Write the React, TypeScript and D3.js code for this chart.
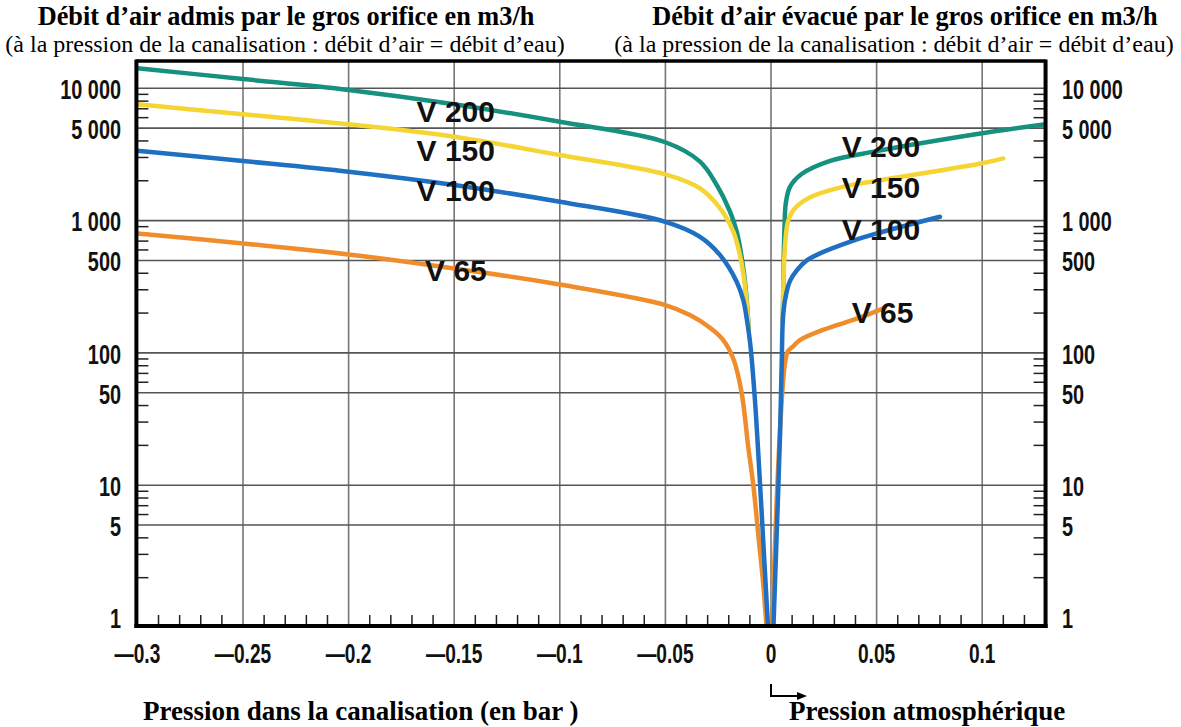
import React from "react";
import * as d3 from "d3";

const W = 1181;
const H = 727;

type P = [number, number];

// Pressure in bar (x) vs air flow m3/h (y)
const v200Left: P[] = [
  [-0.3, 14170], [-0.25, 11750], [-0.2, 9710], [-0.15, 7570], [-0.1, 5580], [-0.05, 3910],
  [-0.0336, 2790], [-0.0257, 1860], [-0.0194, 1167], [-0.0162, 823], [-0.0131, 435], [-0.0115, 250], [-0.0106, 150],
];
const v150Left: P[] = [
  [-0.3, 7570], [-0.25, 6360], [-0.2, 5340], [-0.15, 4310], [-0.1, 3130], [-0.05, 2235],
  [-0.0336, 1753], [-0.0241, 1237], [-0.0178, 823], [-0.0147, 548], [-0.0131, 400], [-0.0115, 240], [-0.0106, 150],
];
const v100Left: P[] = [
  [-0.3, 3375], [-0.25, 2820], [-0.2, 2340], [-0.15, 1857], [-0.1, 1388], [-0.05, 979],
  [-0.0336, 754], [-0.0241, 548], [-0.0162, 344], [-0.0131, 250], [-0.0115, 182], [-0.0099, 120],
  [-0.0076, 44], [-0.0052, 10.3], [-0.003, 2.4], [-0.0013, 0.8],
];
const v65Left: P[] = [
  [-0.3, 800], [-0.25, 672], [-0.2, 555], [-0.15, 435], [-0.1, 329], [-0.05, 230],
  [-0.0384, 193], [-0.0289, 155], [-0.0226, 125], [-0.0178, 90], [-0.0139, 50], [-0.0107, 19],
  [-0.0084, 10.1], [-0.006, 4.2], [-0.0037, 1.8], [-0.002, 0.8],
];

const v200Right: P[] = [
  [0.0056, 170], [0.006, 500], [0.0064, 900], [0.007, 1350], [0.009, 1800], [0.0145, 2250],
  [0.028, 2830], [0.05, 3350], [0.1, 4570], [0.13, 5350],
];
const v150Right: P[] = [
  [0.0056, 170], [0.006, 400], [0.0068, 700], [0.008, 980], [0.0106, 1200], [0.0185, 1500],
  [0.034, 1800], [0.05, 2000], [0.1, 2710], [0.11, 2950],
];
const v100Right: P[] = [
  [0.0011, 0.8], [0.0027, 4.3], [0.0043, 24.7], [0.0051, 88], [0.0058, 200], [0.0074, 290],
  [0.009, 350], [0.0122, 420], [0.0169, 500], [0.0232, 565], [0.039, 705], [0.05, 800], [0.08, 1070],
];
const v65Right: P[] = [
  [0.0005, 0.8], [0.0027, 7.7], [0.0051, 43.9], [0.0066, 83], [0.008, 103], [0.0105, 112],
  [0.0137, 125], [0.025, 150], [0.04, 180], [0.05, 207], [0.054, 220],
];

const seriesNames = ["V 65", "V 200", "V 150", "V 100"];
const seriesColors = ["#ef8d2c", "#17917f", "#f4d534", "#1f6fc2"];
const seriesData: P[][][] = [
  [v65Left, v65Right],
  [v200Left, v200Right],
  [v150Left, v150Right],
  [v100Left, v100Right],
];

// curve labels: [text, x (bar), y (m3/h) of baseline]
const curveLabels: [string, number, number][] = [
  ["V 200", -0.1678, 5600], ["V 150", -0.1678, 2800], ["V 100", -0.1678, 1400], ["V 65", -0.1638, 350],
  ["V 200", 0.0335, 3020], ["V 150", 0.0335, 1479], ["V 100", 0.0335, 713], ["V 65", 0.0382, 168],
];

const xTicks = [-0.3, -0.25, -0.2, -0.15, -0.1, -0.05, 0, 0.05, 0.1];
const xTickLabels = ["\u20140.3", "\u20140.25", "\u20140.2", "\u20140.15", "\u20140.1", "\u20140.05", "0", "0.05", "0.1"];
const xGrid = [-0.25, -0.2, -0.15, -0.1, -0.05, 0, 0.05, 0.1];
const yTicks = [10000, 5000, 1000, 500, 100, 50, 10, 5, 1];
const yTickLabels = ["10 000", "5 000", "1 000", "500", "100", "50", "10", "5", "1"];
const yGrid = [10000, 5000, 1000, 500, 100, 50, 10, 5];
const minorMult = [2, 3, 4, 6, 7, 8, 9];
const decades = [1, 10, 100, 1000];

const titleLeft = "Débit d\u2019air admis par le gros orifice en m3/h";
const titleRight = "Débit d\u2019air évacué par le gros orifice en m3/h";
const subtitle = "(à la pression de la canalisation : débit d\u2019air = débit d\u2019eau)";
const xTitleLeft = "Pression dans la canalisation (en bar )";
const xTitleRight = "Pression atmosphérique";

export default function App() {
  const x = d3.scaleLinear().domain([-0.3, 0.1]).range([137.4, 982.2]);
  const y = d3.scaleLog().domain([1, 10000]).range([617.5, 88.3]);
  const left = x(-0.3) - 1;
  const right = x(0.13);
  const top = 61;
  const bottom = 626;

  const line = d3
    .line<P>()
    .x((d) => x(d[0]))
    .y((d) => y(d[1]))
    .curve(d3.curveCatmullRom.alpha(0.5));

  const minorY: number[] = [];
  decades.forEach((d) => minorMult.forEach((m) => minorY.push(d * m)));
  const minorX: number[] = [];
  for (let i = -29; i <= 12; i++) if (i % 5 !== 0) minorX.push(i / 100);

  const tickFont = "'Liberation Sans', Arial, sans-serif";
  const serif = "'Liberation Serif', 'Times New Roman', serif";
  const sx = 0.71;

  return (
    <svg width={W} height={H} style={{ position: "absolute", left: 0, top: 0, background: "#fff" }}>
      <defs>
        <clipPath id="plot">
          <rect x={left} y={top} width={right - left} height={bottom - top} />
        </clipPath>
      </defs>
      <rect x={0} y={0} width={W} height={H} fill="#fff" />

      {/* titles */}
      <text x={286} y={25} textAnchor="middle" fontFamily={serif} fontWeight="bold" fontSize={26.3}>{titleLeft}</text>
      <text x={905} y={25} textAnchor="middle" fontFamily={serif} fontWeight="bold" fontSize={26.3}>{titleRight}</text>
      <text x={285} y={52} textAnchor="middle" fontFamily={serif} fontSize={24}>{subtitle}</text>
      <text x={894} y={52} textAnchor="middle" fontFamily={serif} fontSize={24}>{subtitle}</text>

      {/* grid */}
      {xGrid.map((v) => (
        <line key={"gx" + v} x1={x(v)} x2={x(v)} y1={top} y2={bottom} stroke="#777" strokeWidth={1.6} />
      ))}
      {yGrid.map((v) => (
        <line key={"gy" + v} x1={left} x2={right} y1={y(v)} y2={y(v)} stroke="#555" strokeWidth={1.6} />
      ))}

      {/* minor ticks */}
      {minorY.map((v) => (
        <g key={"my" + v}>
          <line x1={left} x2={left + 12} y1={y(v)} y2={y(v)} stroke="#222" strokeWidth={1.5} />
          <line x1={right - 12} x2={right} y1={y(v)} y2={y(v)} stroke="#222" strokeWidth={1.5} />
        </g>
      ))}
      {minorX.map((v) => (
        <line key={"mx" + v} x1={x(v)} x2={x(v)} y1={bottom} y2={bottom - 11} stroke="#222" strokeWidth={1.5} />
      ))}

      {/* curves */}
      <g clipPath="url(#plot)">
        {seriesData.map((branches, i) =>
          branches.map((b, j) => (
            <path
              key={seriesNames[i] + j}
              d={line(b) || ""}
              fill="none"
              stroke={seriesColors[i]}
              strokeWidth={4.5}
              strokeLinecap="round"
              strokeLinejoin="round"
            />
          ))
        )}
      </g>

      {/* frame */}
      <line x1={left} x2={right} y1={top} y2={top} stroke="#000" strokeWidth={3.5} />
      <line x1={left} x2={left} y1={top - 1.5} y2={bottom + 2} stroke="#000" strokeWidth={4} />
      <line x1={right} x2={right} y1={top - 1.5} y2={bottom + 2} stroke="#000" strokeWidth={4} />
      <line x1={left - 2} x2={right + 2} y1={bottom} y2={bottom} stroke="#000" strokeWidth={4} />

      {/* curve labels */}
      {curveLabels.map(([t, lx, ly], i) => (
        <text key={"cl" + i} x={x(lx)} y={y(ly)} fontFamily={tickFont} fontWeight="bold" fontSize={30} fill="#111">
          {t}
        </text>
      ))}

      {/* y tick labels */}
      {yTicks.map((v, i) => (
        <g key={"yl" + v}>
          <text
            transform={`translate(121,${y(v) + 1}) scale(${sx},1)`}
            textAnchor="end"
            dominantBaseline="central"
            fontFamily={tickFont}
            fontWeight="bold"
            fontSize={28}
            fill="#111"
          >
            {yTickLabels[i]}
          </text>
          <text
            transform={`translate(1062,${y(v) + 1}) scale(${sx},1)`}
            textAnchor="start"
            dominantBaseline="central"
            fontFamily={tickFont}
            fontWeight="bold"
            fontSize={28}
            fill="#111"
          >
            {yTickLabels[i]}
          </text>
        </g>
      ))}

      {/* x tick labels */}
      {xTicks.map((v, i) => (
        <text
          key={"xl" + v}
          transform={`translate(${x(v)},654) scale(${sx},1)`}
          textAnchor="middle"
          dominantBaseline="central"
          fontFamily={tickFont}
          fontWeight="bold"
          fontSize={27}
          fill="#111"
        >
          {xTickLabels[i]}
        </text>
      ))}

      {/* atmospheric pressure arrow */}
      <path d={`M${x(0)},684 L${x(0)},696 L${x(0) + 28},696`} fill="none" stroke="#000" strokeWidth={2} />
      <path d={`M${x(0) + 36},696 L${x(0) + 26},692 L${x(0) + 26},700 Z`} fill="#000" />

      <text x={143} y={720} fontFamily={serif} fontWeight="bold" fontSize={27}>{xTitleLeft}</text>
      <text x={789} y={720} fontFamily={serif} fontWeight="bold" fontSize={27}>{xTitleRight}</text>
    </svg>
  );
}
